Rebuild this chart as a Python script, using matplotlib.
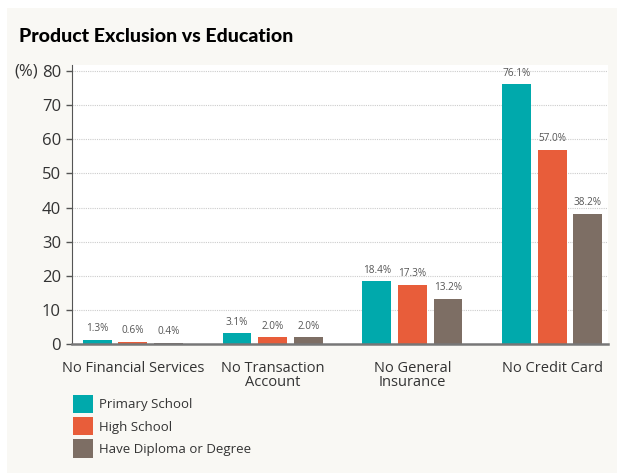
import numpy as np
import matplotlib
matplotlib.use("Agg")
import matplotlib.pyplot as plt
from matplotlib.patches import Rectangle

categories = ["No Financial Services", "No Transaction\nAccount", "No General\nInsurance", "No Credit Card"]
primary = [1.3, 3.1, 18.4, 76.1]
high = [0.6, 2.0, 17.3, 57.0]
diploma = [0.4, 2.0, 13.2, 38.2]
series_names = ["Primary School", "High School", "Have Diploma or Degree"]
colors = ["#00a9ac", "#e85d3a", "#7d6e64"]

plt.rcParams['font.family'] = ['Open Sans', 'DejaVu Sans']

fig = plt.figure(figsize=(6.17, 4.73), dpi=100, facecolor="white")
fig.patches.append(Rectangle((7 / 617, 0), 1, 1 - 8 / 473, transform=fig.transFigure,
                             facecolor="#f9f8f4", edgecolor="none", zorder=-10))

ax = fig.add_axes([72 / 617, 1 - 344 / 473, (608 - 72) / 617, (344 - 65) / 473])
ax.set_facecolor("white")

x = np.arange(len(categories))
width = 0.207
pitch = 0.255
for i, (vals, name, c) in enumerate(zip([primary, high, diploma], series_names, colors)):
    bars = ax.bar(x + (i - 1) * pitch, vals, width, color=c, label=name, zorder=3)
    for b, v in zip(bars, vals):
        ax.annotate(f"{v:.1f}%", (b.get_x() + b.get_width() / 2, v), xytext=(0, 4),
                    textcoords="offset points", ha="center", va="bottom",
                    fontsize=7.2, color="#555555")

ax.set_xlim(-0.436, 3.4)
ax.set_ylim(0, 81.8)
ax.set_yticks(range(0, 81, 10))
ax.yaxis.grid(True, linestyle=(0, (1, 1)), color="#cccccc", linewidth=0.8, zorder=0)
ax.set_xticks(x)
ax.set_xticklabels(categories, fontsize=10.5, color="#333333", linespacing=0.9)
ax.tick_params(axis="x", length=0, pad=12)
ax.tick_params(axis="y", length=4, width=1, color="#555555", labelsize=12, labelcolor="#333333", pad=4)
for s in ["top", "right"]:
    ax.spines[s].set_visible(False)
ax.spines["left"].set_color("#555555")
ax.spines["bottom"].set_color("#777777")
ax.spines["bottom"].set_linewidth(1.8)
ax.spines["bottom"].set_zorder(4)

fig.text(14 / 617, 1 - 71 / 473, "(%)", fontsize=12, color="#333333", va="center", ha="left")
fig.text(19 / 617, 1 - 37 / 473, "Product Exclusion vs Education", fontsize=14,
         fontweight="black", family=["Lato", "DejaVu Sans"], color="black", va="center", ha="left")

ax.legend(loc="upper left", bbox_to_anchor=(73 / 617, 1 - 395 / 473), bbox_transform=fig.transFigure,
          frameon=False, fontsize=9.5, handlelength=1.5, handleheight=1.75, handletextpad=0.45,
          labelspacing=0.3, borderpad=0, borderaxespad=0, labelcolor="#333333")

fig.savefig("out.png", dpi=100, facecolor=fig.get_facecolor())
